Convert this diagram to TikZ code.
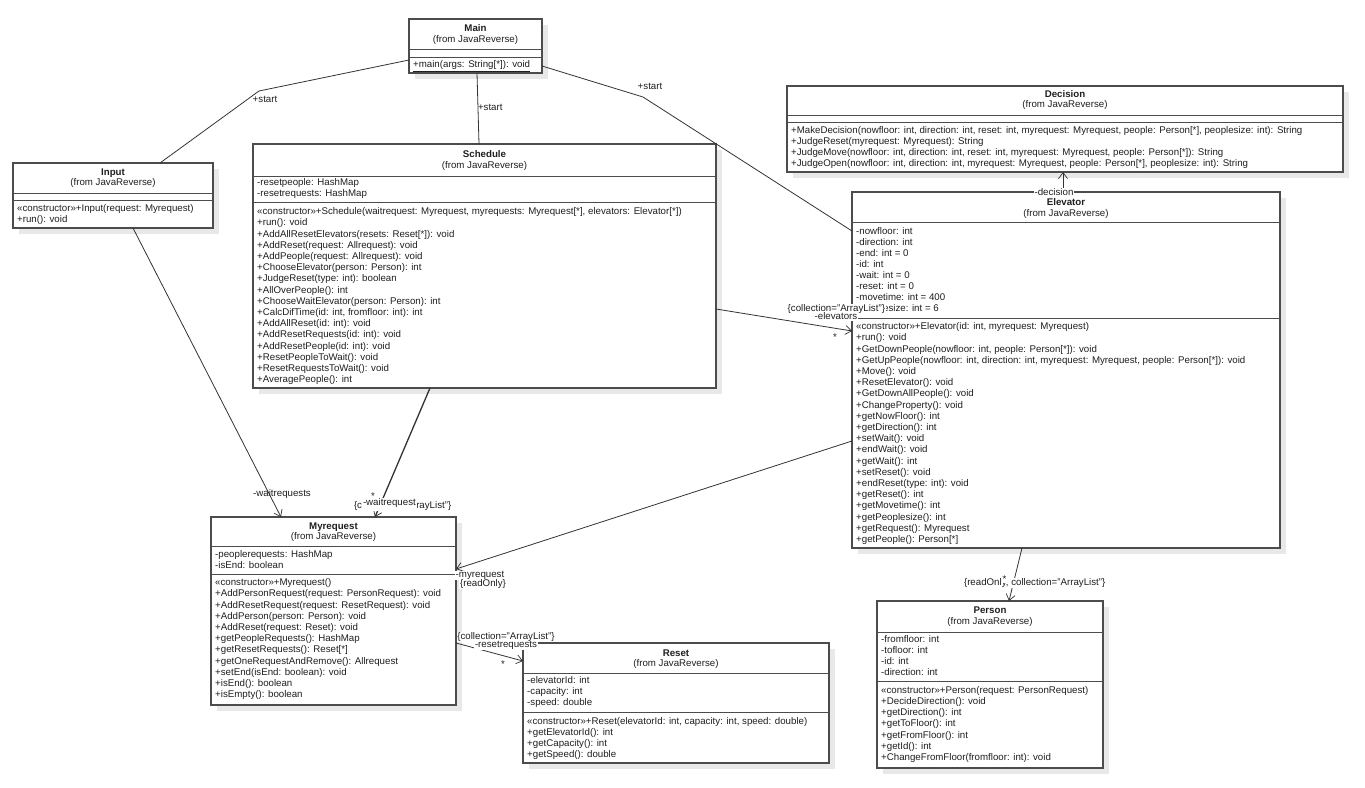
\documentclass[tikz,border=0pt]{standalone}
\usepackage{fontspec}
\setmainfont{Liberation Sans}
\usetikzlibrary{arrows.meta,calc,shadows}
\newcommand\umllines[5]{%
  \foreach \t [count=\i from 0] in {#5} {\node[txt] (#1-\i) at (#2,{#3+\i*#4}) {\t};}}
\begin{document}
\begin{tikzpicture}[x=1pt,y=-1pt, font=\fontsize{9.7}{11}\selectfont,
  classbox/.style={draw=black!70, line width=1.2pt, fill=white, inner sep=0pt, outer sep=0pt,
    anchor=north west, drop shadow={shadow xshift=6pt, shadow yshift=-6pt, fill=black!9, opacity=1}},
  sepline/.style={draw=black!70, line width=1pt},
  txt/.style={anchor=mid west, inner sep=0pt, text=black!88},
  ttl/.style={anchor=mid, inner sep=0pt, text=black!88, font=\fontsize{9.7}{11}\selectfont\bfseries},
  frm/.style={anchor=mid, inner sep=0pt, text=black!88},
  lbl/.style={inner sep=0.8pt, fill=white, text=black!88, anchor=mid},
  lbln/.style={inner sep=0.8pt, text=black!88, anchor=mid},
  conn/.style={draw=black!80, line width=0.8pt},
  nav/.style={conn, -{Straight Barb[length=6pt,width=9pt,line width=0.7pt]}},
]
\fill[white] (0,0) rectangle (1365,787);
\useasboundingbox (0,0) rectangle (1365,787);

% ---------- Main ----------
\node[classbox, minimum width=133pt, minimum height=54pt] (Main) at (409,19) {};
\node[ttl] (Main-t) at (475.5,29) {Main};
\node[frm] (Main-f) at (475.5,40) {(from JavaReverse)};
\draw[sepline] (409,49) -- (542,49);
\draw[sepline] (409,57) -- (542,57);
\node[txt] (Main-o) at (413,65) {\underline{+main(args: String[*]): void}};

% ---------- Input ----------
\node[classbox, minimum width=200pt, minimum height=65pt] (Input) at (13,163) {};
\node[ttl] (Input-t) at (113,173) {Input};
\node[frm] (Input-f) at (113,183) {(from JavaReverse)};
\draw[sepline] (13,193) -- (213,193);
\draw[sepline] (13,200) -- (213,200);
\umllines{Input-o}{17}{209}{11}{{«constructor»+Input(request: Myrequest)},{+run(): void}}

% ---------- Schedule ----------
\node[classbox, minimum width=463pt, minimum height=244pt] (Schedule) at (253,144) {};
\node[ttl] (Schedule-t) at (484.5,155) {Schedule};
\node[frm] (Schedule-f) at (484.5,166) {(from JavaReverse)};
\draw[sepline] (253,176) -- (716,176);
\umllines{Schedule-a}{257}{183}{11}{{-resetpeople: HashMap},{-resetrequests: HashMap}}
\draw[sepline] (253,202) -- (716,202);
\umllines{Schedule-o}{257}{212}{11.2}{%
{«constructor»+Schedule(waitrequest: Myrequest, myrequests: Myrequest[*], elevators: Elevator[*])},
{+run(): void},
{+AddAllResetElevators(resets: Reset[*]): void},
{+AddReset(request: Allrequest): void},
{+AddPeople(request: Allrequest): void},
{+ChooseElevator(person: Person): int},
{+JudgeReset(type: int): boolean},
{+AllOverPeople(): int},
{+ChooseWaitElevator(person: Person): int},
{+CalcDifTime(id: int, fromfloor: int): int},
{+AddAllReset(id: int): void},
{+AddResetRequests(id: int): void},
{+AddResetPeople(id: int): void},
{+ResetPeopleToWait(): void},
{+ResetRequestsToWait(): void},
{+AveragePeople(): int}}

% ---------- Decision ----------
\node[classbox, minimum width=556pt, minimum height=86pt] (Decision) at (787,86) {};
\node[ttl] (Decision-t) at (1065,95) {Decision};
\node[frm] (Decision-f) at (1065,105) {(from JavaReverse)};
\draw[sepline] (787,115) -- (1343,115);
\draw[sepline] (787,122) -- (1343,122);
\umllines{Decision-o}{791}{131}{11}{%
{+MakeDecision(nowfloor: int, direction: int, reset: int, myrequest: Myrequest, people: Person[*], peoplesize: int): String},
{+JudgeReset(myrequest: Myrequest): String},
{+JudgeMove(nowfloor: int, direction: int, reset: int, myrequest: Myrequest, people: Person[*]): String},
{+JudgeOpen(nowfloor: int, direction: int, myrequest: Myrequest, people: Person[*], peoplesize: int): String}}

% ---------- Elevator ----------
\node[classbox, minimum width=428pt, minimum height=356pt] (Elevator) at (852,192) {};
\node[ttl] (Elevator-t) at (1066,203) {Elevator};
\node[frm] (Elevator-f) at (1066,214) {(from JavaReverse)};
\draw[sepline] (852,222) -- (1280,222);
\umllines{Elevator-a}{856}{232}{11}{%
{-nowfloor: int},{-direction: int},{-end: int = 0},{-id: int},{-wait: int = 0},
{-reset: int = 0},{-movetime: int = 400},{-peoplesize: int = 6}}
\draw[sepline] (852,318) -- (1280,318);
\umllines{Elevator-o}{856}{327}{11.2}{%
{«constructor»+Elevator(id: int, myrequest: Myrequest)},
{+run(): void},
{+GetDownPeople(nowfloor: int, people: Person[*]): void},
{+GetUpPeople(nowfloor: int, direction: int, myrequest: Myrequest, people: Person[*]): void},
{+Move(): void},
{+ResetElevator(): void},
{+GetDownAllPeople(): void},
{+ChangeProperty(): void},
{+getNowFloor(): int},
{+getDirection(): int},
{+setWait(): void},
{+endWait(): void},
{+getWait(): int},
{+setReset(): void},
{+endReset(type: int): void},
{+getReset(): int},
{+getMovetime(): int},
{+getPeoplesize(): int},
{+getRequest(): Myrequest},
{+getPeople(): Person[*]}}

% ---------- Myrequest ----------
\node[classbox, minimum width=245pt, minimum height=188pt] (Myrequest) at (211,517) {};
\node[ttl] (Myrequest-t) at (333.5,527) {Myrequest};
\node[frm] (Myrequest-f) at (333.5,537) {(from JavaReverse)};
\draw[sepline] (211,546) -- (456,546);
\umllines{Myrequest-a}{215}{555}{11}{{-peoplerequests: HashMap},{-isEnd: boolean}}
\draw[sepline] (211,574) -- (456,574);
\umllines{Myrequest-o}{215}{583}{11.2}{%
{«constructor»+Myrequest()},
{+AddPersonRequest(request: PersonRequest): void},
{+AddResetRequest(request: ResetRequest): void},
{+AddPerson(person: Person): void},
{+AddReset(request: Reset): void},
{+getPeopleRequests(): HashMap},
{+getResetRequests(): Reset[*]},
{+getOneRequestAndRemove(): Allrequest},
{+setEnd(isEnd: boolean): void},
{+isEnd(): boolean},
{+isEmpty(): boolean}}

% ---------- Reset ----------
\node[classbox, minimum width=306pt, minimum height=120pt] (Reset) at (523,643) {};
\node[ttl] (Reset-t) at (676,654) {Reset};
\node[frm] (Reset-f) at (676,664) {(from JavaReverse)};
\draw[sepline] (523,673) -- (829,673);
\umllines{Reset-a}{527}{681}{11}{{-elevatorId: int},{-capacity: int},{-speed: double}}
\draw[sepline] (523,712) -- (829,712);
\umllines{Reset-o}{527}{722}{11}{%
{«constructor»+Reset(elevatorId: int, capacity: int, speed: double)},
{+getElevatorId(): int},{+getCapacity(): int},{+getSpeed(): double}}

% ---------- Person ----------
\node[classbox, minimum width=226pt, minimum height=167pt] (Person) at (877,601) {};
\node[ttl] (Person-t) at (990,611) {Person};
\node[frm] (Person-f) at (990,622) {(from JavaReverse)};
\draw[sepline] (877,632) -- (1103,632);
\umllines{Person-a}{881}{640}{11}{{-fromfloor: int},{-tofloor: int},{-id: int},{-direction: int}}
\draw[sepline] (877,681) -- (1103,681);
\umllines{Person-o}{881}{691}{11.1}{%
{«constructor»+Person(request: PersonRequest)},
{+DecideDirection(): void},{+getDirection(): int},{+getToFloor(): int},
{+getFromFloor(): int},{+getId(): int},{+ChangeFromFloor(fromfloor: int): void}}

% ---------- connector end points ----------
\coordinate (mainL) at ($(Main.north west)+(0,41)$);
\coordinate (bendA) at (259,91);
\coordinate (inputT) at ($(Input.north west)+(147,0)$);
\coordinate (mainB) at ($(Main.north west)+(68,54)$);
\coordinate (schedT) at ($(Schedule.north west)+(226,0)$);
\coordinate (mainR) at ($(Main.north east)+(0,47)$);
\coordinate (bendB) at (643,97);
\coordinate (elevL1) at ($(Elevator.north west)+(0,39)$);
\coordinate (inputB) at ($(Input.south west)+(120,0)$);
\coordinate (myT1) at ($(Myrequest.north west)+(70,0)$);
\coordinate (schedB) at ($(Schedule.south west)+(177,0)$);
\coordinate (myT2) at ($(Myrequest.north west)+(164,0)$);
\coordinate (schedR) at ($(Schedule.north east)+(0,165)$);
\coordinate (elevL2) at ($(Elevator.north west)+(0,139)$);
\coordinate (elevL3) at ($(Elevator.north west)+(0,249)$);
\coordinate (myR1) at ($(Myrequest.north east)+(0,52)$);
\coordinate (myR2) at ($(Myrequest.north east)+(0,126)$);
\coordinate (resetL) at ($(Reset.north west)+(0,18)$);
\coordinate (elevB) at ($(Elevator.south west)+(170,0)$);
\coordinate (personT) at ($(Person.north west)+(132,0)$);
\coordinate (elevT) at ($(Elevator.north west)+(211,0)$);
\coordinate (decB) at ($(Decision.south west)+(276,0)$);

% ---------- connectors ----------
\draw[conn] (mainL) -- (bendA) -- (inputT);
\draw[conn] (mainB) -- (schedT);
\draw[conn] (mainR) -- (bendB) -- (elevL1);
\draw[nav] (inputB) -- (myT1);
\draw[nav, line width=1.3pt] (schedB) -- (myT2);
\draw[nav] (schedR) -- (elevL2);
\draw[nav] (elevL3) -- (myR1);
\draw[nav] (myR2) -- (resetL);
\draw[nav] (elevB) -- (personT);
\draw[nav] (elevT) -- (decB);

% ---------- labels ----------
\node[lbln] (l-start1) at (265,100) {+start};
\node[lbln, anchor=mid west] (l-start2) at (477,108) {+start};
\node[lbln] (l-start3) at (650,87) {+start};
\node[lbln] (l-waitreqs) at (282,494) {-waitrequests};
\node[lbl, anchor=mid west] (l-myreqs) at (353,506) {\{collection="ArrayList"\}};
\node[lbl, anchor=mid west] (l-waitreq) at (362,503) {-waitrequest};
\node[lbln] (l-star1) at (373,497) {*};
\node[lbl, anchor=mid east] (l-elevcoll) at (886,309) {\{collection="ArrayList"\}};
\node[lbl] (l-elevs) at (836,317) {-elevators};
\node[lbln] (l-star2) at (835,338) {*};
\node[lbl] (l-myreq) at (480,575) {-myrequest};
\node[lbl] (l-ro) at (483,584) {\{readOnly\}};
\node[lbl] (l-rscoll) at (506,637) {\{collection="ArrayList"\}};
\node[lbl] (l-rsreqs) at (506,645) {-resetrequests};
\node[lbln] (l-star3) at (503,665) {*};
\node[lbl, anchor=mid west] (l-people) at (963,583) {\{readOnly, collection="ArrayList"\}};
\node[lbl] (l-star4) at (1004.5,580) {*};
\node[lbl] (l-dec) at (1054,193) {-decision};
\end{tikzpicture}
\end{document}
